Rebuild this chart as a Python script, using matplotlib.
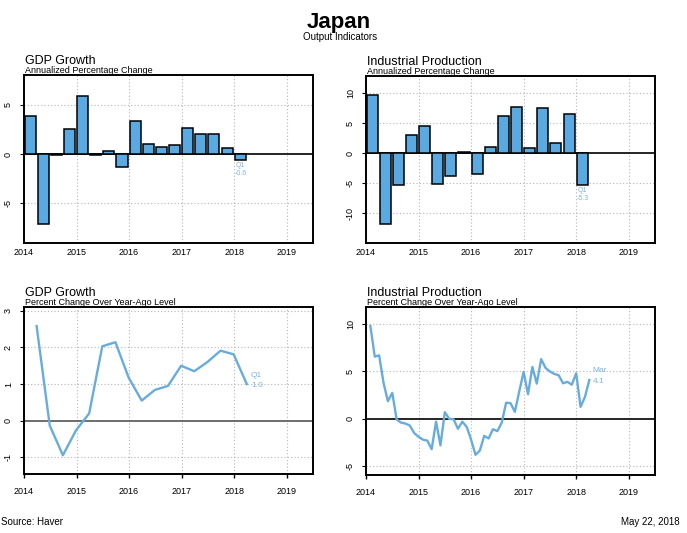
import numpy as np
import pandas as pd
import matplotlib

matplotlib.use("Agg")  # no display in the sandbox
from matplotlib import pyplot as plt

plt.rcParams["font.family"] = ["Liberation Sans", "DejaVu Sans"]
plt.rcParams["axes.unicode_minus"] = False

# ---- data ----
quarters = pd.period_range("2014Q1", "2018Q1", freq="Q")
months = pd.period_range("2014-01", "2018-03", freq="M")

gdp_annualized = [3.9, -7.05, -0.1, 2.5, 5.9, -0.1, 0.35, -1.3, 3.3,
                  1.05, 0.75, 0.95, 2.6, 2.0, 2.05, 0.6, -0.6]
ip_annualized = [9.7, -11.8, -5.3, 3.0, 4.5, -5.2, -3.8, 0.15, -3.4,
                 1.0, 6.3, 7.7, 0.8, 7.5, 1.7, 6.5, -5.3]
gdp_yoy = [2.58, -0.13, -0.94, -0.26, 0.2, 2.03, 2.14, 1.18, 0.55,
           0.84, 0.95, 1.5, 1.35, 1.6, 1.91, 1.81, 1.0]
ip_yoy = [9.8, 6.56, 6.7, 3.8, 1.86, 2.74, -0.07, -0.4, -0.5, -0.7, -1.5, -1.9,
          -2.2, -2.3, -3.2, -0.3, -2.8, 0.7, 0.0, -0.05, -1.05, -0.3, -0.85, -2.2,
          -3.8, -3.35, -1.8, -2.07, -1.1, -1.3, -0.4, 1.7, 1.65, 0.74, 2.9, 4.95,
          2.6, 5.47, 3.72, 6.3, 5.37, 5.0, 4.74, 4.6, 3.75, 3.9, 3.6, 4.8,
          1.26, 2.3, 4.1]

years = [2014, 2015, 2016, 2017, 2018, 2019]

BAR_COLOR = "#5AAAE1"
LINE_COLOR = "#68ACDC"
NOTE_COLOR = "#7DB6E0"
GRID = dict(color="#B5B5B5", linestyle=(0, (1, 2)), linewidth=0.8, zorder=0)

W, H = 687, 533
fig = plt.figure(figsize=(W / 100, H / 100), dpi=100)


def place(left, top, right, bottom):
    return fig.add_axes([left / W, 1 - bottom / H, (right - left) / W, (bottom - top) / H])


def style_axes(ax, ylim, yticks, title, subtitle, zero_color, bottom_row):
    ax.set_xlim(2014, 2019.5)
    ax.set_ylim(*ylim)
    ax.set_xticks(years)
    ax.set_xticklabels([str(y) for y in years])
    ax.set_yticks(yticks)
    for y in years:
        ax.axvline(y, **GRID)
    for t in yticks:
        if t != 0:
            ax.axhline(t, **GRID)
    ax.axhline(0, color=zero_color, linewidth=1.2, zorder=1)
    for s in ax.spines.values():
        s.set_linewidth(1.4)
    if bottom_row:
        ax.tick_params(axis="x", length=3, width=1, pad=6.5, labelsize=6.5)
    else:
        ax.tick_params(axis="x", length=0, pad=3.5, labelsize=6.5)
    ax.tick_params(axis="y", length=3, width=0.8, pad=5, labelsize=6.5)
    for lab in ax.get_yticklabels():
        lab.set_rotation(90)
        lab.set_va("center")
    ax.annotate(title, xy=(0, 1), xycoords="axes fraction", xytext=(0.5, 7.6),
                textcoords="offset points", va="baseline", fontsize=9)
    ax.annotate(subtitle, xy=(0, 1), xycoords="axes fraction", xytext=(0.5, 1.2),
                textcoords="offset points", va="baseline", fontsize=6.5)


q_start = np.array([p.year + (p.quarter - 1) / 4 for p in quarters])
q_end = q_start + 0.24
m_end = np.array([p.year + p.month / 12 for p in months])
bar_w = 0.21

# top left: GDP annualized
ax = place(24, 75, 313, 243)
ax.bar(q_start + 0.115, gdp_annualized, width=bar_w, color=BAR_COLOR,
       edgecolor="black", linewidth=1.1, zorder=2)
style_axes(ax, (-9, 8), [-5, 0, 5], "GDP Growth", "Annualized Percentage Change",
           "black", False)
ax.annotate(f"{quarters[-1].strftime('Q%q')}\n{gdp_annualized[-1]:.1f}",
            xy=(q_start[-1] + 0.005, gdp_annualized[-1]), xytext=(0.5, -1.5),
            textcoords="offset points", va="top", ha="left", fontsize=5,
            color=NOTE_COLOR, linespacing=1.15)

# top right: IP annualized
ax = place(366, 76, 655, 243)
ax.bar(q_start + 0.115, ip_annualized, width=bar_w, color=BAR_COLOR,
       edgecolor="black", linewidth=1.1, zorder=2)
style_axes(ax, (-15, 12.9), [-10, -5, 0, 5, 10], "Industrial Production",
           "Annualized Percentage Change", "black", False)
ax.annotate(f"{quarters[-1].strftime('Q%q')}\n{ip_annualized[-1]:.1f}",
            xy=(q_start[-1] + 0.005, ip_annualized[-1]), xytext=(0.5, -1.5),
            textcoords="offset points", va="top", ha="left", fontsize=5,
            color=NOTE_COLOR, linespacing=1.15)

# bottom left: GDP year-over-year
ax = place(24, 307, 313, 474)
ax.plot(q_end, gdp_yoy, color=LINE_COLOR, linewidth=1.7, zorder=3)
style_axes(ax, (-1.45, 3.1), [-1, 0, 1, 2, 3], "GDP Growth",
           "Percent Change Over Year-Ago Level", "#555555", True)
ax.annotate(quarters[-1].strftime("Q%q"), xy=(q_end[-1], gdp_yoy[-1]), xytext=(3, 6),
            textcoords="offset points", va="center", ha="left", fontsize=6,
            color=NOTE_COLOR)
ax.annotate(f"{gdp_yoy[-1]:.1f}", xy=(q_end[-1], gdp_yoy[-1]), xytext=(3, -1.3),
            textcoords="offset points", va="center", ha="left", fontsize=6,
            color=NOTE_COLOR)

# bottom right: IP year-over-year
ax = place(366, 307, 655, 475)
ax.plot(m_end, ip_yoy, color=LINE_COLOR, linewidth=1.7, zorder=3)
style_axes(ax, (-5.93, 11.8), [-5, 0, 5, 10], "Industrial Production",
           "Percent Change Over Year-Ago Level", "black", True)
ax.annotate(months[-1].strftime("%b"), xy=(m_end[-1], ip_yoy[-1]), xytext=(2.5, 6.5),
            textcoords="offset points", va="center", ha="left", fontsize=6,
            color=NOTE_COLOR)
ax.annotate(f"{ip_yoy[-1]:.1f}", xy=(m_end[-1], ip_yoy[-1]), xytext=(2.5, -0.8),
            textcoords="offset points", va="center", ha="left", fontsize=6,
            color=NOTE_COLOR)

# page texts
fig.text(339 / W, 1 - 28 / H, "Japan", ha="center", va="baseline", fontsize=16,
         fontweight="bold")
fig.text(340.5 / W, 1 - 40.5 / H, "Output Indicators", ha="center", va="baseline",
         fontsize=7)
fig.text(1 / W, 1 - 525 / H, "Source: Haver", ha="left", va="baseline", fontsize=7)
fig.text(680 / W, 1 - 525 / H, "May 22, 2018", ha="right", va="baseline", fontsize=7)

fig.savefig("out.png", dpi=100)
plt.close(fig)
